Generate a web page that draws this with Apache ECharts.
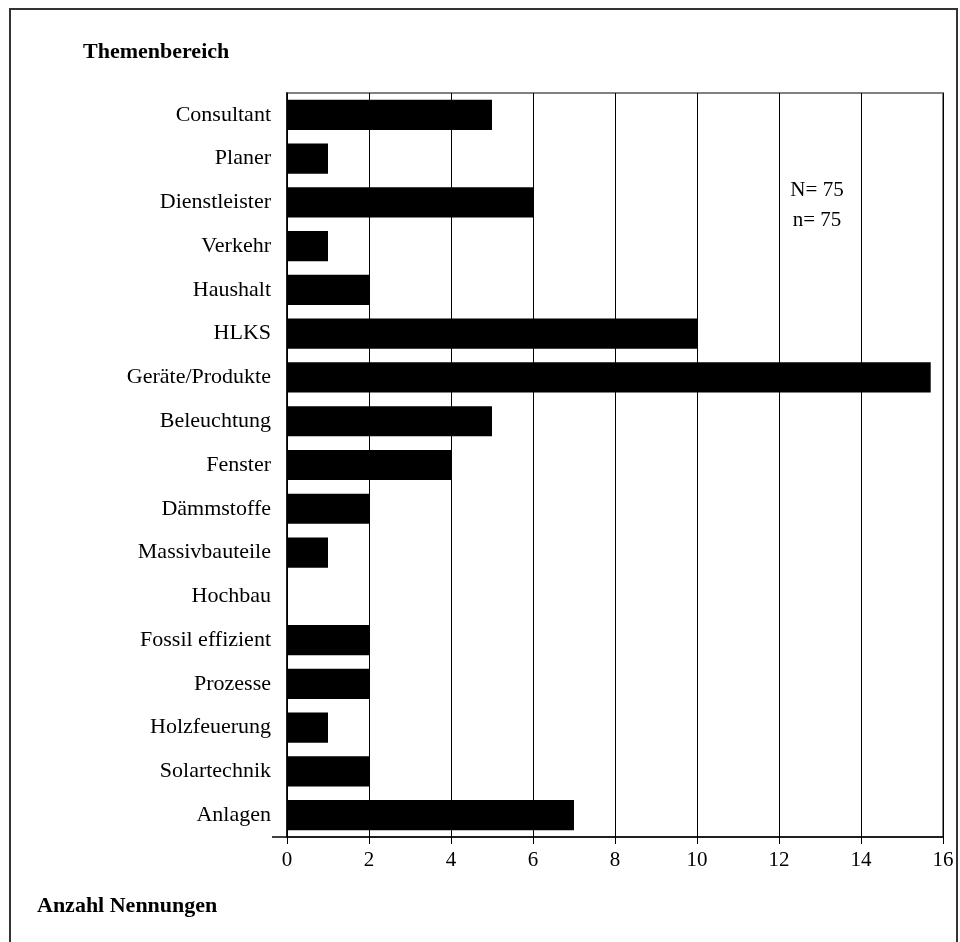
<!DOCTYPE html>
<html>
<head>
<meta charset="utf-8">
<script src="https://cdn.jsdelivr.net/npm/echarts@6/dist/echarts.min.js"></script>
<style>
  html, body { margin: 0; padding: 0; background: #fff; }
  #chart { width: 960px; height: 942px; }
</style>
</head>
<body>
<div id="chart"></div>
<script>
// Themenbereiche, top to bottom
const categories = [
  'Consultant', 'Planer', 'Dienstleister', 'Verkehr', 'Haushalt', 'HLKS',
  'Geräte/Produkte', 'Beleuchtung', 'Fenster', 'Dämmstoffe', 'Massivbauteile',
  'Hochbau', 'Fossil effizient', 'Prozesse', 'Holzfeuerung', 'Solartechnik', 'Anlagen'
];
// Anzahl Nennungen per Themenbereich
const nennungen = [5, 1, 6, 1, 2, 10, 15.7, 5, 4, 2, 1, 0, 2, 2, 1, 2, 7];
const axisMin = 0;
const axisMax = 16;
const axisStep = 2;
const sampleNote = ['N= 75', 'n= 75'];

const fontFamily = '"Liberation Serif", "DejaVu Serif", serif';

const chart = echarts.init(document.getElementById('chart'), null, { renderer: 'canvas' });

chart.setOption({
  backgroundColor: '#ffffff',
  animation: false,
  textStyle: { fontFamily: fontFamily },
  grid: {
    left: 287, right: 17, top: 93, bottom: 105,
    show: true,
    borderColor: '#808080',
    borderWidth: 2,
    backgroundColor: 'transparent'
  },
  xAxis: {
    type: 'value',
    min: axisMin,
    max: axisMax,
    interval: axisStep,
    axisLine: { show: true, lineStyle: { color: '#000', width: 1.5 } },
    axisTick: { show: true, length: 7, lineStyle: { color: '#000', width: 1 } },
    axisLabel: { color: '#000', fontSize: 21, fontFamily: fontFamily, margin: 13 },
    splitLine: { show: true, lineStyle: { color: '#000', width: 1 } }
  },
  yAxis: {
    type: 'category',
    data: categories,
    inverse: true,
    axisLine: { show: true, lineStyle: { color: '#000', width: 1.5 } },
    axisTick: { show: false },
    axisLabel: { color: '#000', fontSize: 22, fontFamily: fontFamily, margin: 16 },
    splitLine: { show: false }
  },
  series: [{
    type: 'bar',
    data: nennungen,
    barCategoryGap: '31%',
    itemStyle: { color: '#000' },
    silent: true
  }],
  graphic: [
    {
      type: 'rect',
      shape: { x: 10, y: 9, width: 947, height: 1000 },
      style: { fill: 'none', stroke: '#333', lineWidth: 2 },
      silent: true
    },
    {
      type: 'line',
      shape: { x1: 272, y1: 837, x2: 287, y2: 837 },
      style: { stroke: '#000', lineWidth: 1.5 },
      silent: true
    },
    {
      type: 'text',
      left: 83, top: 41,
      style: { text: 'Themenbereich', fill: '#000', font: 'bold 22px ' + fontFamily }
    },
    {
      type: 'text',
      left: 37, top: 895,
      style: { text: 'Anzahl Nennungen', fill: '#000', font: 'bold 22px ' + fontFamily }
    },
    {
      type: 'text',
      x: 817, y: 175,
      style: {
        text: sampleNote.join('\n'),
        fill: '#000',
        font: '21px ' + fontFamily,
        align: 'center',
        lineHeight: 30
      }
    }
  ]
});
</script>
</body>
</html>
